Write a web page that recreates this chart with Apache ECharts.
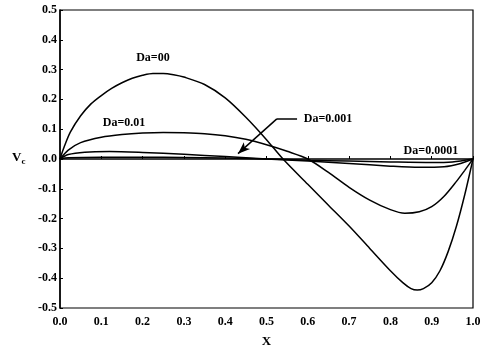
<!DOCTYPE html>
<html>
<head>
<meta charset="utf-8">
<script src="https://cdn.jsdelivr.net/npm/echarts@6/dist/echarts.min.js"></script>
<style>
  html, body { margin: 0; padding: 0; background: #fff; }
  #chart { width: 490px; height: 353px; }
</style>
</head>
<body>
<div id="chart"></div>
<script>
// Centreline velocity V_c against X for several Darcy numbers
const xDa00 = [0, 0.01, 0.025, 0.05, 0.075, 0.1, 0.125, 0.15, 0.175, 0.2, 0.225, 0.25, 0.275, 0.3, 0.35, 0.4, 0.45, 0.5, 0.54, 0.6, 0.65, 0.7, 0.75, 0.8, 0.83, 0.85, 0.865, 0.88, 0.9, 0.92, 0.94, 0.96, 0.98, 1.0];
const vDa00 = [0, 0.04, 0.09, 0.145, 0.185, 0.213, 0.237, 0.256, 0.271, 0.281, 0.287, 0.287, 0.283, 0.275, 0.25, 0.205, 0.14, 0.065, 0.0, -0.085, -0.155, -0.225, -0.3, -0.375, -0.415, -0.435, -0.44, -0.435, -0.415, -0.375, -0.31, -0.225, -0.12, 0];

const xDa001 = [0, 0.02, 0.05, 0.1, 0.15, 0.2, 0.25, 0.3, 0.35, 0.4, 0.45, 0.5, 0.55, 0.6, 0.65, 0.7, 0.75, 0.8, 0.835, 0.87, 0.9, 0.93, 0.96, 0.98, 1.0];
const vDa001 = [0, 0.03, 0.055, 0.073, 0.082, 0.087, 0.089, 0.088, 0.085, 0.078, 0.066, 0.048, 0.026, 0.0, -0.045, -0.095, -0.138, -0.17, -0.182, -0.177, -0.16, -0.125, -0.075, -0.038, 0];

const xDa0001 = [0, 0.02, 0.06, 0.12, 0.2, 0.3, 0.4, 0.5, 0.6, 0.7, 0.8, 0.87, 0.93, 0.97, 1.0];
const vDa0001 = [0, 0.015, 0.023, 0.025, 0.022, 0.016, 0.008, 0.0, -0.007, -0.015, -0.024, -0.028, -0.026, -0.015, 0];

const xDa00001 = [0, 0.02, 0.1, 0.2, 0.3, 0.4, 0.5, 0.6, 0.7, 0.8, 0.9, 0.95, 1.0];
const vDa00001 = [0, 0.004, 0.006, 0.006, 0.005, 0.003, 0.0, -0.004, -0.007, -0.01, -0.012, -0.01, 0];

const seriesNames = ['Da=00', 'Da=0.01', 'Da=0.001', 'Da=0.0001'];
// label anchor for each curve, in data coordinates
const labelAt = [[0.225, 0.34], [0.155, 0.121], [0.649, 0.1345], [0.898, 0.028]];
// leader arrow for Da=0.001: elbow then tip
const arrowPath = [[0.574, 0.1345], [0.525, 0.1345], [0.431, 0.018]];

const xTicks = ['0.0', '0.1', '0.2', '0.3', '0.4', '0.5', '0.6', '0.7', '0.8', '0.9', '1.0'];
const yTicks = ['-0.5', '-0.4', '-0.3', '-0.2', '-0.1', '0.0', '0.1', '0.2', '0.3', '0.4', '0.5'];

const FONT = '"Liberation Serif", "DejaVu Serif", serif';

function pairs(xs, vs) { return xs.map((x, i) => [x, vs[i]]); }

const curves = [pairs(xDa00, vDa00), pairs(xDa001, vDa001), pairs(xDa0001, vDa0001), pairs(xDa00001, vDa00001)];

const series = curves.map((d, i) => ({
  name: seriesNames[i],
  type: 'line',
  data: d,
  smooth: 0.3,
  symbol: 'none',
  lineStyle: { color: '#000', width: 1.5 },
  markPoint: {
    symbol: 'circle', symbolSize: 0,
    label: { show: true, formatter: seriesNames[i], color: '#000', fontFamily: FONT, fontWeight: 'bold', fontSize: 12, position: 'inside' },
    data: [{ coord: labelAt[i] }]
  },
  z: 3
}));

// arrow pointing at the Da=0.001 curve
series.push({
  type: 'line',
  data: [],
  markLine: {
    silent: true,
    symbol: ['none', 'none'],
    lineStyle: { color: '#000', width: 1.5, type: 'solid' },
    label: { show: false },
    data: [
      [{ coord: arrowPath[0], symbol: 'none' }, { coord: arrowPath[1], symbol: 'none' }],
      [{ coord: arrowPath[1], symbol: 'none' }, { coord: arrowPath[2], symbol: 'arrow', symbolSize: [7, 12] }]
    ]
  }
});

const chart = echarts.init(document.getElementById('chart'));
chart.setOption({
  animation: false,
  backgroundColor: '#fff',
  grid: { left: 60, right: 17, top: 10, bottom: 42, show: true, borderColor: '#000', borderWidth: 1.2 },
  xAxis: {
    type: 'value', min: 0, max: 1, interval: 0.1,
    name: 'X', nameLocation: 'middle', nameGap: 27,
    nameTextStyle: { color: '#000', fontFamily: FONT, fontWeight: 'bold', fontSize: 13 },
    axisLine: { show: true, lineStyle: { color: '#000', width: 1.5 } },
    axisTick: { show: true, inside: true, length: 3, lineStyle: { color: '#000' } },
    splitLine: { show: false },
    axisLabel: { color: '#000', fontFamily: FONT, fontWeight: 'bold', fontSize: 12, margin: 8,
      formatter: v => xTicks[Math.round(v * 10)] }
  },
  yAxis: {
    type: 'value', min: -0.5, max: 0.5, interval: 0.1,
    axisLine: { show: true, lineStyle: { color: '#000', width: 1.5 } },
    axisTick: { show: true, inside: true, length: 3, lineStyle: { color: '#000' } },
    splitLine: { show: false },
    axisLabel: { color: '#000', fontFamily: FONT, fontWeight: 'bold', fontSize: 12, margin: 3,
      formatter: v => yTicks[Math.round(v * 10) + 5] }
  },
  graphic: [{
    type: 'text', left: 12, top: 151,
    style: {
      text: '{v|V}{s|c}',
      rich: {
        v: { fontFamily: FONT, fontWeight: 'bold', fontSize: 13, fill: '#000' },
        s: { fontFamily: FONT, fontWeight: 'bold', fontSize: 9, fill: '#000', padding: [8, 0, 0, 0] }
      }
    }
  }],
  series: series
});
</script>
</body>
</html>
